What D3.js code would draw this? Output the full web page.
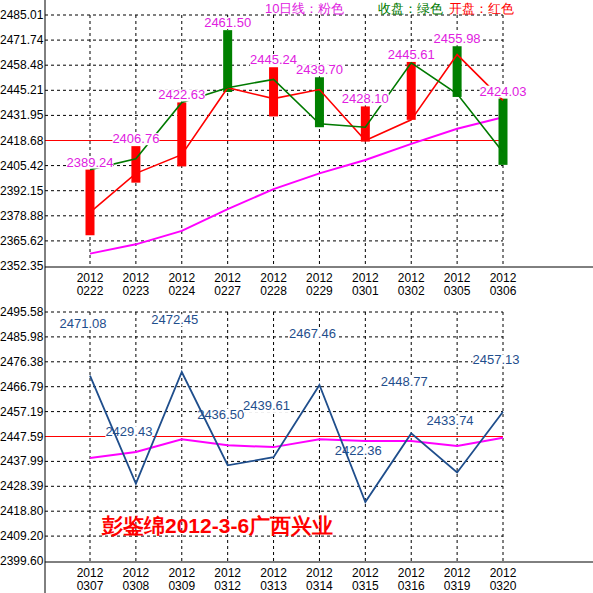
<!DOCTYPE html>
<meta charset="utf-8">
<script src="https://d3js.org/d3.v7.min.js"></script>
<style>
body { margin: 0; background: #fff; }
text { font-family: "Liberation Sans", Arial, sans-serif; }
.tick { font-size: 12px; fill: #000; }
</style>
<body>
<div id="chart"></div>
<script>
// top panel
var dates1 = ["0222","0223","0224","0227","0228","0229","0301","0302","0305","0306"];
var barTop = [2403.3,2415.7,2438.8,2477.0,2457.4,2452.1,2436.7,2460.2,2468.5,2440.8];
var barBottom = [2368.6,2396.4,2405.0,2444.3,2431.4,2425.7,2418.1,2429.6,2441.7,2405.8];
var barColor = ["r","r","r","g","r","g","r","r","g","g"];
var closeLine = [2403.3,2409.0,2438.8,2446.6,2451.0,2427.5,2425.7,2459.7,2443.4,2412.5];
var openLine = [2380.7,2401.3,2411.2,2446.6,2440.8,2445.6,2418.7,2429.6,2464.1,2439.9];
var ma10 = [2358.9,2363.8,2370.9,2382.4,2393.0,2401.3,2408.4,2416.9,2424.9,2431.0];
var labels1 = ["2389.24","2406.76","2422.63","2461.50","2445.24","2439.70","2428.10","2445.61","2455.98","2424.03"];
var ticks1 = [2485.01,2471.74,2458.48,2445.21,2431.95,2418.68,2405.42,2392.15,2378.88,2365.62,2352.35];

// bottom panel
var dates2 = ["0307","0308","0309","0312","0313","0314","0315","0316","0319","0320"];
var forecast = [2471.08,2429.43,2472.45,2436.50,2439.61,2467.46,2422.36,2448.77,2433.74,2457.13];
var ma2 = [2439.3,2441.6,2446.5,2444.2,2443.5,2446.5,2445.9,2445.9,2443.9,2447.1];
var labelAt2 = [2491.5,2449.6,2492.8,2456.4,2459.6,2487.6,2442.3,2468.9,2453.8,2477.3];
var ticks2 = [2495.58,2485.98,2476.38,2466.79,2457.19,2447.59,2437.99,2428.39,2418.80,2409.20,2399.60];

var W = 593, H = 593;
var svg = d3.select("#chart").append("svg").attr("width", W).attr("height", H);

var x = d3.scalePoint().domain(d3.range(10)).range([90, 503]);

function panel(top, bottom, ticks, dates, redTick) {
  var y = d3.scaleLinear().domain([ticks[ticks.length-1], ticks[0]]).range([bottom, top]);
  var g = svg.append("g");
  ticks.forEach(function(t, i) {
    if (i < ticks.length - 1) {
      g.append("line").attr("x1", 45).attr("x2", 503).attr("y1", y(t)).attr("y2", y(t))
        .attr("stroke", t === redTick ? "#ff0000" : "#000")
        .attr("stroke-dasharray", t === redTick ? null : "3,3");
    }
    g.append("text").attr("class", "tick").attr("x", 0).attr("y", y(t) + 4).text(t.toFixed(2));
  });
  d3.range(10).forEach(function(i) {
    g.append("line").attr("x1", x(i)).attr("x2", x(i)).attr("y1", top).attr("y2", bottom)
      .attr("stroke", "#000").attr("stroke-dasharray", "3,3");
    g.append("text").attr("class", "tick").attr("x", x(i)).attr("y", bottom + 16)
      .attr("text-anchor", "middle").text("2012");
    g.append("text").attr("class", "tick").attr("x", x(i)).attr("y", bottom + 29)
      .attr("text-anchor", "middle").text(dates[i]);
  });
  g.append("line").attr("x1", 45).attr("x2", W).attr("y1", bottom + 1).attr("y2", bottom + 1).attr("stroke", "#000");
  return y;
}

var y1 = panel(15, 266, ticks1, dates1, 2418.68);
var y2 = panel(312, 561, ticks2, dates2, 2447.59);
svg.append("line").attr("x1", 45).attr("x2", 45).attr("y1", 0).attr("y2", H).attr("stroke", "#000");

function lbl(xp, yp, txt, color) {
  var t = svg.append("text").attr("x", xp).attr("y", yp + 5).attr("text-anchor", "middle")
    .attr("font-size", 13).attr("fill", color).text(txt);
  var b = t.node().getBBox();
  svg.insert("rect", function() { return t.node(); })
    .attr("x", b.x).attr("y", b.y + 2).attr("width", b.width).attr("height", b.height - 3).attr("fill", "#fff");
}

// top marks
var line = function(yy, arr) {
  return d3.line().x(function(d, i) { return x(i); }).y(function(d) { return yy(d); })(arr);
};
svg.append("path").attr("d", line(y1, ma10)).attr("fill", "none").attr("stroke", "#ff00ff").attr("stroke-width", 2);
barTop.forEach(function(v, i) {
  svg.append("rect").attr("x", x(i) - 4.5).attr("width", 9)
    .attr("y", y1(v)).attr("height", y1(barBottom[i]) - y1(v))
    .attr("fill", barColor[i] === "r" ? "#ff0000" : "#008000");
});
svg.append("path").attr("d", line(y1, openLine)).attr("fill", "none").attr("stroke", "#ff0000").attr("stroke-width", 1.6);
svg.append("path").attr("d", line(y1, closeLine)).attr("fill", "none").attr("stroke", "#007a00").attr("stroke-width", 1.6);
labels1.forEach(function(t, i) { lbl(x(i), y1(barTop[i]) - 8, t, "#e020e0"); });

// legend
svg.append("text").attr("x", 265).attr("y", 13).attr("font-size", 13).attr("fill", "#e020e0").text("10日线：粉色");
svg.append("text").attr("x", 378).attr("y", 13).attr("font-size", 13).attr("fill", "#007a00").text("收盘：绿色");
svg.append("text").attr("x", 449).attr("y", 13).attr("font-size", 13).attr("fill", "#ff0000").text("开盘：红色");

// bottom marks
svg.append("path").attr("d", line(y2, ma2)).attr("fill", "none").attr("stroke", "#ff00ff").attr("stroke-width", 2);
forecast.forEach(function(v, i) { lbl(x(i) - 7, y2(labelAt2[i]), v.toFixed(2), "#1f4e8c"); });
svg.append("path").attr("d", line(y2, forecast)).attr("fill", "none").attr("stroke", "#1f4e8c").attr("stroke-width", 1.8);

svg.append("text").attr("x", 102).attr("y", 533).attr("font-size", 21).attr("font-weight", "bold")
  .attr("font-family", "'Noto Sans CJK SC', sans-serif").attr("fill", "#ff0000").text("彭鉴绵2012-3-6广西兴业");
</script>
</body>
